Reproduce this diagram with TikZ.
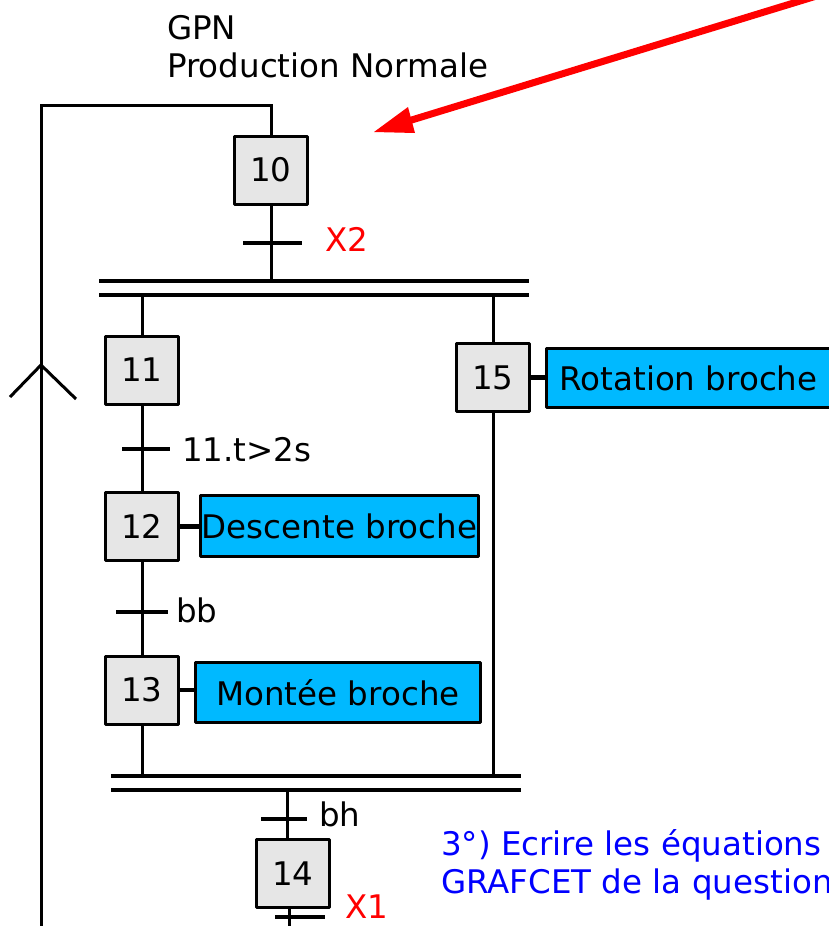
\documentclass[tikz,border=0pt]{standalone}
\usepackage{fontspec}
\setmainfont{DejaVu Sans}
\definecolor{stepgray}{RGB}{230,230,230}
\definecolor{actblue}{RGB}{0,185,255}
\definecolor{arrred}{RGB}{255,0,0}
\begin{document}
\begin{tikzpicture}[x=1pt,y=-1pt,
  font=\fontsize{32.5}{38}\selectfont,
  stepbox/.style={draw, line width=3, fill=stepgray, minimum width=73, minimum height=68, inner sep=0, line join=round},
  actbox/.style={draw, line width=3, fill=actblue, inner sep=0, line join=round},
  link/.style={line width=3},
  trans/.style={line width=4.5},
  bar/.style={line width=4},
  lbl/.style={anchor=base west, inner sep=0},
  actlink/.style={line width=4.5}
]
\useasboundingbox (0,0) rectangle (829,926);

% steps
\node[stepbox] (s10) at (271,170) {10};
\node[stepbox] (s11) at (142,370) {11};
\node[stepbox] (s12) at (142,526.5) {12};
\node[stepbox] (s13) at (142,690) {13};
\node[stepbox] (s14) at (293,873.5) {14};
\node[stepbox] (s15) at (493,377.5) {15};

% actions
\node[actbox, minimum width=278, minimum height=61] (a12) at (339.5,526) {Descente broche};
\node[actbox, minimum width=285, minimum height=60] (a13) at (338,692.5) {Montée broche};
\node[actbox, minimum width=284, minimum height=59] (a15) at (688.5,378) {Rotation broche};
\draw[actlink] (s12.east) -- (s12.east -| a12.west);
\draw[actlink] (s13.east) -- (s13.east -| a13.west);
\draw[actlink] (s15.east) -- (s15.east -| a15.west);

% loop back
\coordinate (loopBot) at (41,926);
\coordinate (loopTL) at (41,105);
\coordinate (loopTR) at (271,105);
\draw[link] (loopBot) -- (loopTL) -- (loopTR) -- (s10.north);
\draw[link] (10,397) -- (41,365) -- (76,399);

% divergence AND
\coordinate (d1L) at (99,281);  \coordinate (d1R) at (529,281);
\coordinate (d2L) at (99,295);  \coordinate (d2R) at (529,295);
\draw[bar] (d1L) -- (d1R);
\draw[bar] (d2L) -- (d2R);
\draw[link] (s10.south) -- (s10.south |- d1L);
\draw[trans] (243,243) -- (302,243);
\node[lbl, text=arrred] (lX2) at (325,251.5) {X2};

% left branch
\draw[link] (s11.north |- d2L) -- (s11.north);
\draw[link] (s11.south) -- (s12.north);
\draw[trans] (122,449) -- (170,449);
\node[lbl] (l11) at (182,461.5) {11.t>2s};
\draw[link] (s12.south) -- (s13.north);
\draw[trans] (116,612) -- (168,612);
\node[lbl] (lbb) at (176,622) {bb};

% convergence AND
\coordinate (c1L) at (111,776);  \coordinate (c1R) at (521,776);
\coordinate (c2L) at (111,790);  \coordinate (c2R) at (521,790);
\draw[bar] (c1L) -- (c1R);
\draw[bar] (c2L) -- (c2R);
\draw[link] (s13.south) -- (s13.south |- c1L);

% right branch
\draw[link] (s15.north |- d2L) -- (s15.north);
\draw[link] (s15.south) -- (s15.south |- c1L);

% after convergence
\coordinate (c14) at (287,790);
\draw[link] (c14) -- (c14 |- s14.north);
\draw[trans] (261,819) -- (307,819);
\node[lbl] (lbh) at (319,826) {bh};
\coordinate (endB) at (289,926);
\draw[link] (endB |- s14.south) -- (endB);
\draw[trans] (275,917) -- (325,917);
\node[lbl, text=arrred] (lX1) at (345,918) {X1};

% titles
\node[lbl] (gpn) at (167,39) {GPN};
\node[lbl] (prod) at (167,77) {Production Normale};

% question text
\node[lbl, text=blue] (q1) at (441,855) {3°) Ecrire les équations};
\node[lbl, text=blue] (q2) at (441,893) {GRAFCET de la question};

% red arrow
\draw[arrred, line width=7] (836,-10) -- (410,120.5);
\fill[arrred] (374,132) -- (408,107) -- (415,133) -- cycle;
\end{tikzpicture}
\end{document}
